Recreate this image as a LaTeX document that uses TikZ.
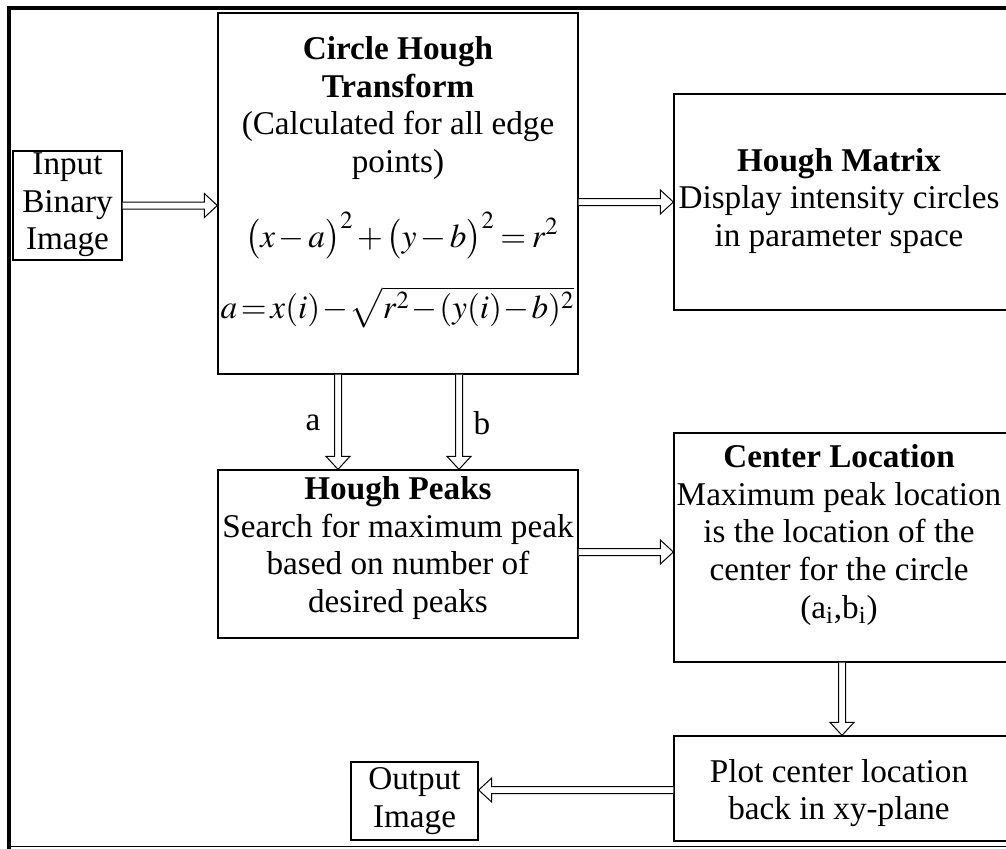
\documentclass[tikz,border=0pt]{standalone}
\usepackage{mathptmx}
\usepackage{fontspec}
\setmainfont{Liberation Serif}
\usetikzlibrary{calc}
\tikzset{
  box/.style={draw, line width=0.65pt, inner sep=0pt},
  txt/.style={align=center, inner sep=0pt, font=\fontsize{16.6}{18.8}\selectfont},
  eq/.style={inner sep=0pt, anchor=base, font=\fontsize{16.6}{18.8}\selectfont},
  arrowline/.style={draw, line width=0.5pt, fill=white, line join=miter},
  frame/.style={line width=2pt},
}
\newcommand{\tightmath}{\medmuskip=2mu\thickmuskip=3mu\relax}
\newcommand{\tightermath}{\medmuskip=1mu\thickmuskip=2mu\relax}
\newcommand{\hollowarrow}[2]{%
  \draw[arrowline] let \p1=#1, \p2=#2,
     \n1={veclen(\x2-\x1,\y2-\y1)},
     \n2={(\x2-\x1)/\n1}, \n3={(\y2-\y1)/\n1}
   in ({\x1-\n3*1.75},{\y1+\n2*1.75})
   -- ({\x2-\n2*6.5-\n3*1.75},{\y2-\n3*6.5+\n2*1.75})
   -- ({\x2-\n2*6.5-\n3*6},{\y2-\n3*6.5+\n2*6})
   -- (\x2,\y2)
   -- ({\x2-\n2*6.5+\n3*6},{\y2-\n3*6.5-\n2*6})
   -- ({\x2-\n2*6.5+\n3*1.75},{\y2-\n3*6.5-\n2*1.75})
   -- ({\x1+\n3*1.75},{\y1-\n2*1.75});}
\begin{document}
\begin{tikzpicture}[x=0.5pt,y=-0.5pt]
\useasboundingbox (0,0) rectangle (1006,848);
% frame
\coordinate (ftl) at (8.8,8);
\coordinate (ftr) at (1010,8);
\coordinate (fbl) at (8.8,850);
\draw[frame] (ftr) -- (ftl) -- (fbl);
\coordinate (fb1) at (9,846.5);
\coordinate (fb2) at (1010,846.5);
\draw[line width=0.6pt] (fb1) -- (fb2);
% boxes
\node[box, minimum width=54.5pt, minimum height=54.5pt] (input) at (67.5,205.5) {};
\node[box, minimum width=180pt, minimum height=180.5pt] (cht) at (398,193.5) {};
\node[box, minimum width=168pt, minimum height=108pt] (matrix) at (842,202) {};
\node[box, minimum width=180pt, minimum height=84pt] (peaks) at (398,554) {};
\node[box, minimum width=168pt, minimum height=114.5pt] (center) at (842,547.5) {};
\node[box, minimum width=168pt, minimum height=52.5pt] (plot) at (842,788.5) {};
\node[box, minimum width=63.5pt, minimum height=39pt] (output) at (414.5,801) {};
% texts
\node[txt] (tinput) at (67.5,205) {Input\\Binary\\Image};
\node[txt] (tcht) at (398,108) {\textbf{Circle Hough}\\\textbf{Transform}\\(Calculated for all edge\\points)};
\node[eq] (eq1) at (402,247) {\raisebox{0pt}[\height][0pt]{$\tightmath\big(x-a\big)^2+\big(y-b\big)^2=r^2$}};
\node[eq] (eq2) at (397.5,318) {$\tightermath a=x(i)-\sqrt{r^2-(y(i)-b)^2}$};
\node[txt] (tmatrix) at (839,201) {\textbf{Hough Matrix}\\Display intensity circles\\in parameter space};
\node[txt] (tpeaks) at (398,548) {\textbf{Hough Peaks}\\Search for maximum peak\\based on number of\\desired peaks};
\node[txt] (tcenter) at (839,535) {\textbf{Center Location}\\Maximum peak location\\is the location of the\\center for the circle\\(a\textsubscript{i},b\textsubscript{i})};
\node[txt] (tplot) at (839,793) {Plot center location\\back in xy-plane};
\node[txt] (toutput) at (414.5,801) {Output\\Image};
\node[txt] (la) at (313,423) {a};
\node[txt] (lb) at (482,423) {b};
% arrows
\coordinate (ax) at (338,0);
\coordinate (bx) at (459,0);
\coordinate (py) at (0,552);
\coordinate (oy) at (0,790);
\hollowarrow{(input.east)}{(cht.west |- input.east)}
\hollowarrow{(cht.east |- matrix.west)}{(matrix.west)}
\hollowarrow{(ax |- cht.south)}{(ax |- peaks.north)}
\hollowarrow{(bx |- cht.south)}{(bx |- peaks.north)}
\hollowarrow{(peaks.east |- py)}{(center.west |- py)}
\hollowarrow{(center.south)}{(plot.north)}
\hollowarrow{(plot.west |- oy)}{(output.east |- oy)}
\end{tikzpicture}
\end{document}
